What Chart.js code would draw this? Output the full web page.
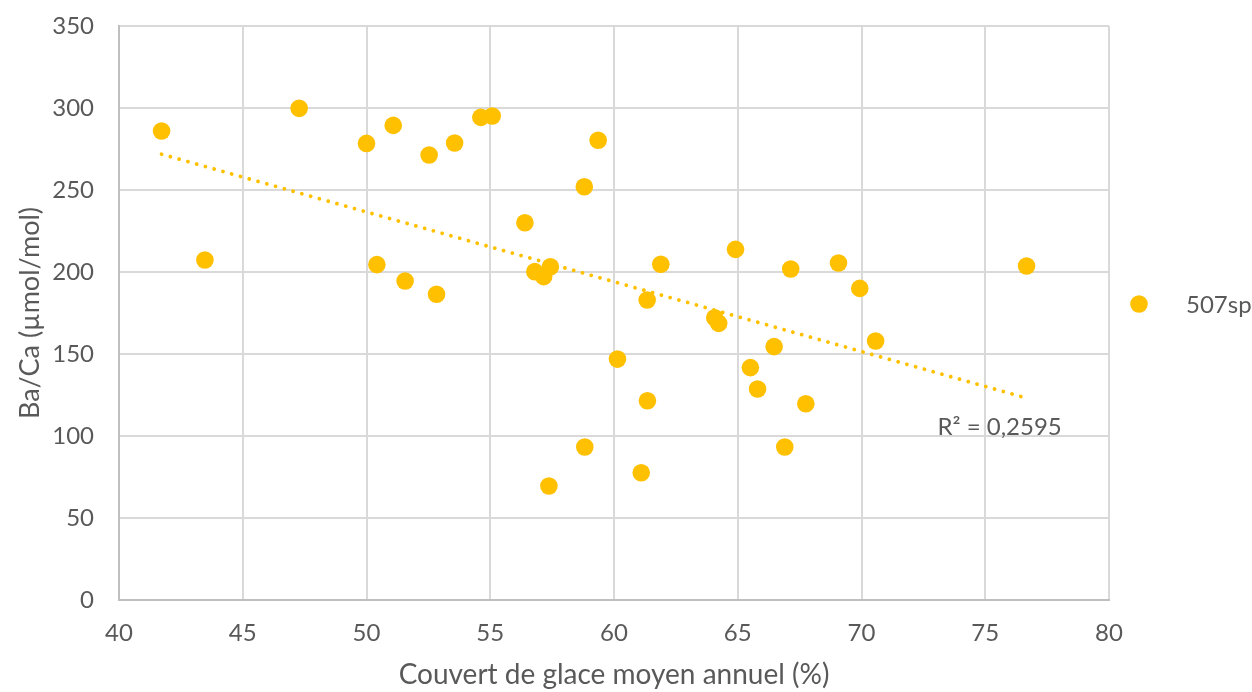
<!DOCTYPE html>
<html>
<head>
<meta charset="utf-8">
<script src="https://cdn.jsdelivr.net/npm/chart.js@4/dist/chart.umd.min.js"></script>
<style>
  html, body { margin: 0; padding: 0; background: #ffffff; }
  #wrap { width: 1252px; height: 692px; position: relative; }
</style>
</head>
<body>
<div id="wrap"><canvas id="c" width="1252" height="692"></canvas></div>
<script>
// ---- data ----
const seriesName = "507sp";
const iceCover = [41.72, 43.47, 47.28, 50.0, 51.08, 50.42, 51.56, 52.53, 53.56, 54.62, 55.08, 59.36, 58.8, 56.4, 52.83, 56.8, 57.16, 57.43, 61.89, 64.91, 67.14, 61.34, 69.07, 76.67, 69.93, 64.07, 64.23, 70.57, 66.47, 60.14, 65.51, 65.8, 67.75, 61.35, 66.9, 61.1, 58.82, 57.37];
const baCa = [286, 207.3, 299.8, 278.4, 289.4, 204.5, 194.5, 271.3, 278.7, 294.3, 295.1, 280.3, 252, 230, 186.4, 200.2, 197.2, 203.2, 204.7, 213.8, 201.8, 182.9, 205.5, 203.7, 190.0, 172.1, 168.7, 157.9, 154.5, 146.9, 141.7, 128.7, 119.7, 121.5, 93.3, 77.6, 93.3, 69.5];
const xTicks = [40, 45, 50, 55, 60, 65, 70, 75, 80];
const yTicks = [0, 50, 100, 150, 200, 250, 300, 350];
const r2Label = "R² = 0,2595";
const xTitle = "Couvert de glace moyen annuel (%)";
const yTitle = "Ba/Ca (µmol/mol)";

// ---- linear trendline (least squares) from the data ----
const n = iceCover.length;
const mx = iceCover.reduce((a, b) => a + b, 0) / n;
const my = baCa.reduce((a, b) => a + b, 0) / n;
let sxy = 0, sxx = 0;
for (let i = 0; i < n; i++) { sxy += (iceCover[i] - mx) * (baCa[i] - my); sxx += (iceCover[i] - mx) ** 2; }
const slope = sxy / sxx, intercept = my - slope * mx;
const xMin = Math.min(...iceCover), xMax = Math.max(...iceCover);
const trend = [{ x: xMin, y: intercept + slope * xMin }, { x: xMax, y: intercept + slope * xMax }];

const points = iceCover.map((x, i) => ({ x: x, y: baCa[i] }));

const FONT = "Lato";
const GREY = "#595959";
const GOLD = "#FFC000";

const extras = {
  id: 'extras',
  afterDraw(chart) {
    const ctx = chart.ctx;
    const xs = chart.scales.x, ys = chart.scales.y;
    ctx.save();
    // R² label
    ctx.fillStyle = GREY;
    ctx.font = "24px " + FONT;
    ctx.textAlign = "left";
    ctx.textBaseline = "middle";
    ctx.fillText(r2Label, xs.getPixelForValue(73.07), ys.getPixelForValue(105.5));
    // legend
    const lx = chart.chartArea.right + 30, ly = (chart.chartArea.top + chart.chartArea.bottom) / 2 - 9;
    ctx.beginPath();
    ctx.fillStyle = GOLD;
    ctx.arc(lx, ly, 8.8, 0, Math.PI * 2);
    ctx.fill();
    ctx.fillStyle = GREY;
    ctx.fillText(seriesName, lx + 47, ly + 1);
    ctx.restore();
  }
};

new Chart(document.getElementById('c'), {
  type: 'scatter',
  data: {
    datasets: [
      {
        label: 'trend',
        data: trend,
        showLine: true,
        borderColor: GOLD,
        borderWidth: 3.8,
        borderDash: [0.01, 9.1],
        borderCapStyle: 'round',
        pointRadius: 0,
        pointHoverRadius: 0,
        order: 0
      },
      {
        label: seriesName,
        data: points,
        backgroundColor: GOLD,
        borderColor: GOLD,
        borderWidth: 0,
        pointRadius: 8.8,
        pointHoverRadius: 8.8,
        order: 1
      }
    ]
  },
  options: {
    responsive: false,
    animation: false,
    events: [],
    layout: { padding: { left: 0, right: 143, top: 26, bottom: 0 } },
    plugins: { legend: { display: false }, tooltip: { enabled: false } },
    scales: {
      x: {
        type: 'linear', min: 40, max: 80,
        afterBuildTicks: (s) => { s.ticks = xTicks.map(v => ({ value: v })); },
        afterFit: (s) => { s.height = 92; s.paddingLeft = 0; s.paddingRight = 0; },
        ticks: { color: GREY, font: { family: FONT, size: 24 }, padding: 19 },
        grid: { color: '#D9D9D9', lineWidth: 2, drawTicks: false },
        border: { color: '#BFBFBF', width: 2 },
        title: { display: true, text: xTitle, color: GREY, font: { family: FONT, size: 28 }, padding: { top: 0, bottom: 0 } }
      },
      y: {
        type: 'linear', min: 0, max: 350,
        afterBuildTicks: (s) => { s.ticks = yTicks.map(v => ({ value: v })); },
        afterFit: (s) => { s.width = 119; s.paddingTop = 0; s.paddingBottom = 0; },
        ticks: { color: GREY, font: { family: FONT, size: 24 }, padding: 25 },
        grid: { color: '#D9D9D9', lineWidth: 2, drawTicks: false },
        border: { color: '#BFBFBF', width: 2 },
        title: { display: true, text: yTitle, color: GREY, font: { family: FONT, size: 27 }, padding: { top: 14, bottom: 0 } }
      }
    }
  },
  plugins: [extras]
});
</script>
</body>
</html>
